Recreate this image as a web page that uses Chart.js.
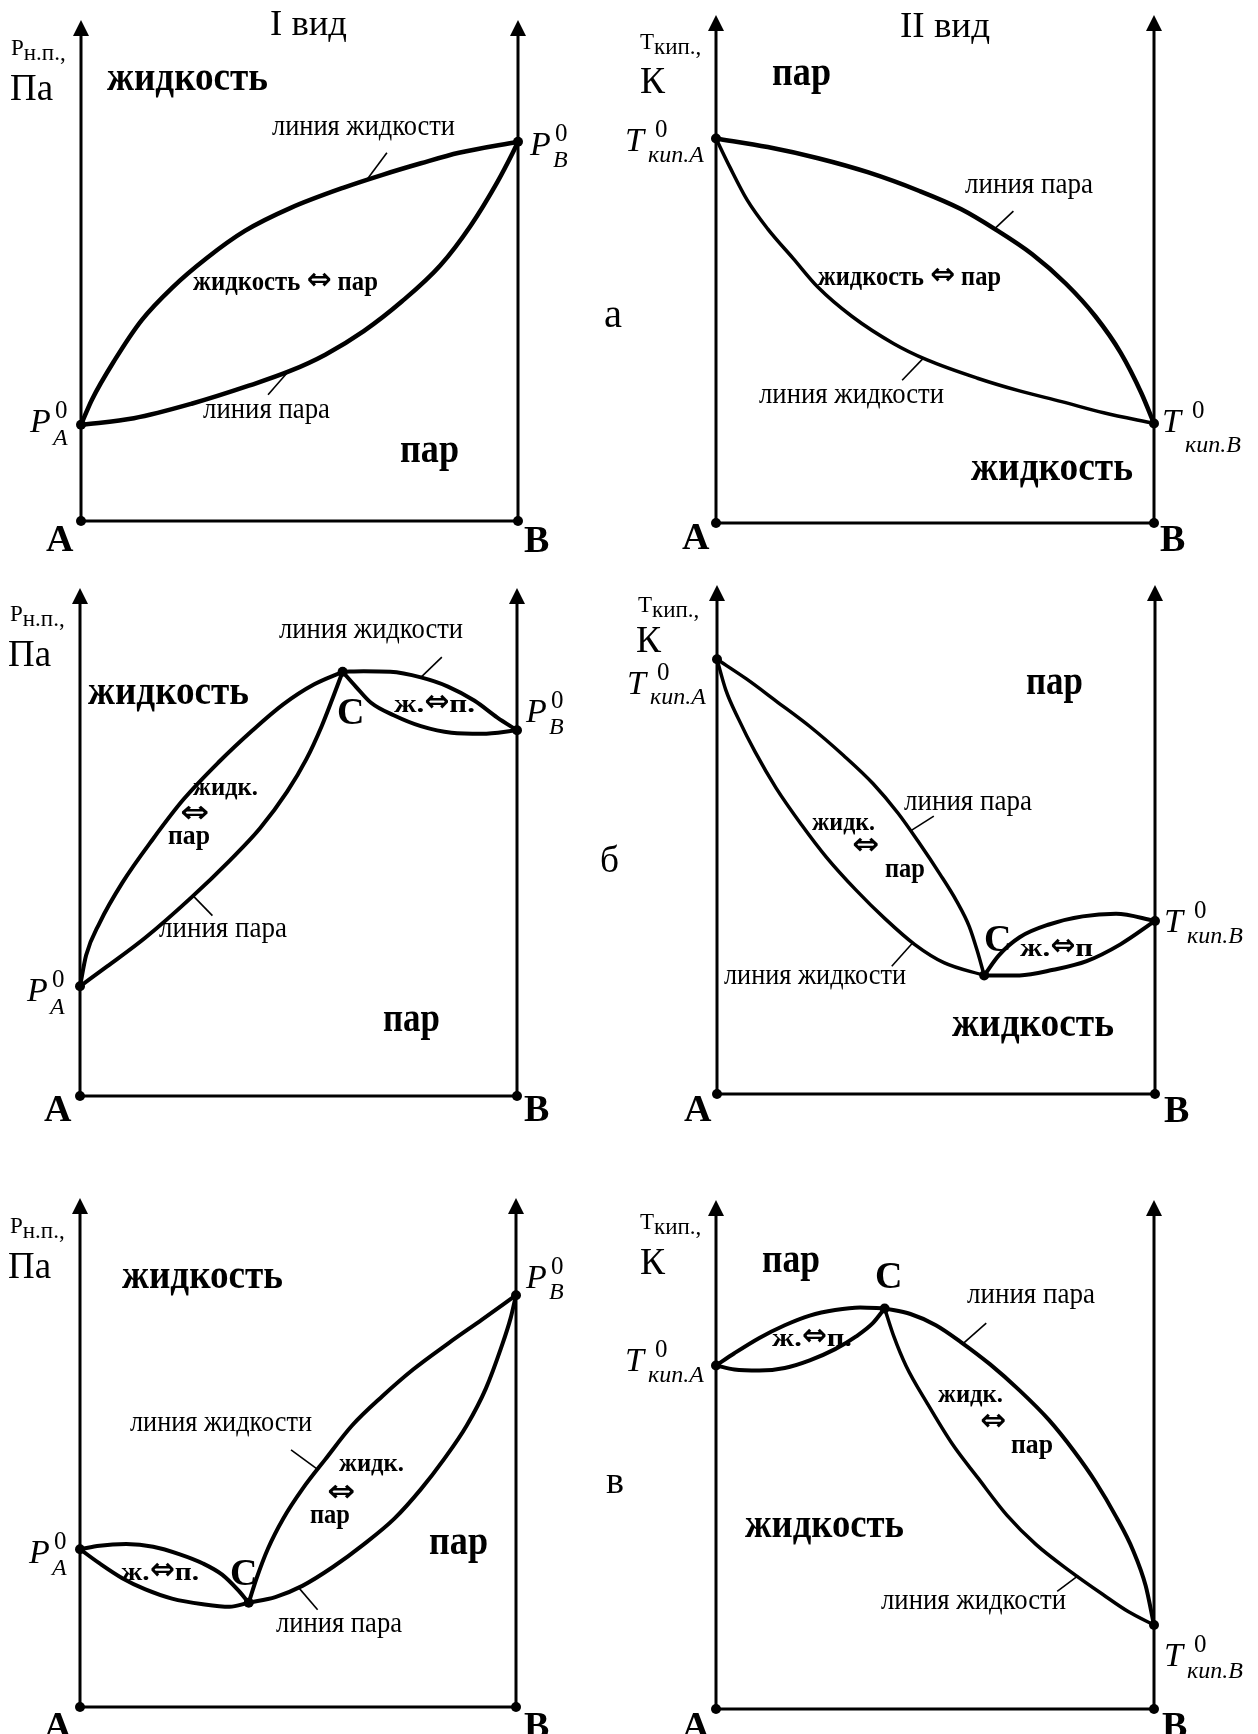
<!DOCTYPE html>
<html>
<head>
<meta charset="utf-8">
<script src="https://cdn.jsdelivr.net/npm/chart.js@4/dist/chart.umd.min.js"></script>
<style>
  html, body { margin: 0; padding: 0; background: #fff; }
  body { width: 1258px; height: 1734px; position: relative; overflow: hidden; }
  canvas { position: absolute; }
</style>
</head>
<body>
<script>
// x = доля компонента B, % ; y = давление / температура, условные единицы (100 = конец оси)

// а, I вид
const a1Liquid = [[0,19.2],[2.5,24.2],[7.7,32.1],[13.9,40.1],[20.9,46.6],[28.8,52.5],[37.5,57.9],[48.0,62.5],[60.3,66.6],[69.0,69.1],[77.8,71.4],[86.5,73.5],[100,75.7]];
const a1Vapor = [[0,19.2],[12.1,20.5],[25.3,23.4],[38.4,27.0],[48.0,30.0],[55.9,33.2],[64.7,37.9],[73.4,43.8],[82.2,51.0],[89.2,59.0],[95.3,67.7],[98.8,73.5],[100,75.7]];
const a1Points = [[0,0],[100,0],[0,19.2],[100,75.7]];
const a1Ticks = [[[65.5,68.2],[70.0,73.5]], [[47.6,30.0],[42.8,25.2]]];

// а, II вид
const a2Vapor = [[0,75.7],[11.8,74.0],[23.3,71.8],[34.8,69.0],[46.3,65.4],[55.9,61.8],[63.6,57.9],[72.2,52.9],[79.9,47.1],[86.6,40.7],[92.4,33.5],[97.1,25.6],[100,19.6]];
const a2Liquid = [[0,75.7],[3.2,70.0],[7.1,63.6],[11.8,57.9],[17.6,52.1],[23.3,46.4],[31.0,40.7],[40.6,35.3],[48.2,32.1],[59.7,28.5],[69.3,26.0],[78.9,23.9],[88.5,21.7],[100,19.6]];
const a2Points = [[0,0],[100,0],[0,75.7],[100,19.6]];
const a2Ticks = [[[63.6,57.9],[67.9,61.4]], [[47.3,32.4],[42.5,28.1]]];

// б, I вид
const b1LiquidL = [[0,21.6],[1.4,27.7],[4.5,34.1],[9.7,42.0],[16.7,50.6],[23.7,58.4],[31.6,65.6],[39.5,72.0],[46.5,77.1],[53.5,81.0],[60.1,83.5]];
const b1VaporL = [[0,21.6],[6.2,25.5],[15.0,31.2],[25.5,39.1],[34.2,46.3],[41.2,52.7],[47.4,59.9],[51.8,66.3],[55.3,72.8],[57.9,78.5],[60.1,83.5]];
const b1LiquidR = [[60.1,83.5],[64.9,83.6],[71.0,83.5],[78.0,82.4],[84.2,80.6],[90.3,77.8],[95.5,74.5],[100,72.0]];
const b1VaporR = [[60.1,83.5],[63.1,80.6],[66.6,77.4],[71.9,74.9],[78.0,72.8],[85.0,71.5],[92.0,71.3],[100,72.0]];
const b1Points = [[0,0],[100,0],[0,21.6],[100,72.0],[60.1,83.5]];
const b1Ticks = [[[78.0,82.4],[82.8,86.4]], [[25.9,39.4],[30.3,35.5]]];

// б, II вид
const b2VaporL = [[0,85.4],[6.8,81.5],[13.5,77.2],[21.2,72.2],[28.9,66.5],[35.6,61.0],[41.3,55.2],[46.1,49.4],[50.9,43.2],[54.7,37.9],[57.6,32.9],[59.5,27.9],[61.0,23.3]];
const b2LiquidL = [[0,85.4],[2.0,79.4],[4.9,73.7],[8.7,67.2],[13.5,60.1],[19.3,52.9],[25.0,46.5],[31.7,40.1],[38.4,34.4],[45.1,29.4],[51.8,25.8],[61.0,23.3]];
const b2VaporR = [[61.0,23.3],[64.3,27.2],[69.1,30.8],[75.8,33.3],[83.5,34.9],[91.1,35.4],[100,34.0]];
const b2LiquidR = [[61.0,23.3],[69.1,23.3],[76.8,24.4],[84.4,26.1],[92.1,29.4],[100,34.0]];
const b2Points = [[0,0],[100,0],[0,85.4],[100,34.0],[61.0,23.3]];
const b2Ticks = [[[44.2,51.7],[49.5,54.6]], [[44.7,29.7],[39.9,25.1]]];

// в, I вид
const c1UpperL = [[0,31.0],[4.5,31.7],[10.6,32.0],[16.8,31.5],[22.9,30.0],[28.2,28.2],[32.6,26.0],[36.1,23.1],[38.7,20.5]];
const c1LowerL = [[0,31.0],[4.5,28.2],[9.7,25.3],[15.0,23.1],[21.1,21.3],[28.2,20.2],[34.3,19.7],[38.7,20.5]];
const c1LiquidR = [[38.7,20.5],[40.5,25.3],[43.1,31.1],[46.6,37.0],[51.0,42.8],[56.3,48.7],[62.4,55.3],[69.4,61.1],[76.4,66.3],[84.4,71.4],[92.2,76.1],[100,80.9]];
const c1VaporR = [[38.7,20.5],[44.8,21.6],[51.0,23.8],[58.0,27.5],[65.0,31.9],[72.1,37.0],[78.2,42.8],[83.5,48.7],[88.7,55.3],[93.1,62.6],[96.6,70.6],[98.8,76.5],[100,80.9]];
const c1Points = [[0,0],[100,0],[0,31.0],[100,80.9],[38.7,20.5]];
const c1Ticks = [[[54.5,46.7],[48.4,50.5]], [[50.1,23.5],[54.5,19.1]]];

// в, II вид
const c2UpperL = [[0,67.5],[4.2,69.9],[9.9,72.9],[15.7,75.4],[21.4,77.3],[27.2,78.4],[32.9,78.9],[38.5,78.7]];
const c2LowerL = [[0,67.5],[4.2,66.7],[9.9,66.5],[15.7,67.0],[21.4,68.5],[27.2,70.7],[32.0,73.2],[35.8,75.8],[38.5,78.7]];
const c2VaporR = [[38.5,78.7],[44.4,77.6],[50.2,75.4],[55.9,72.1],[62.6,67.7],[69.3,62.6],[76.0,56.8],[81.8,50.6],[86.6,44.7],[91.4,37.7],[95.2,31.2],[98.1,24.2],[100,16.5]];
const c2LiquidR = [[38.5,78.7],[40.6,73.2],[43.4,67.4],[48.2,60.1],[54.0,52.0],[59.8,45.4],[66.4,38.1],[73.1,32.3],[80.8,27.1],[88.5,22.4],[94.2,19.1],[100,16.5]];
const c2Points = [[0,0],[100,0],[0,67.5],[100,16.5],[38.5,78.7]];
const c2Ticks = [[[56.4,71.8],[61.7,75.8]], [[82.7,26.2],[77.9,23.1]]];

const SERIF = '"Liberation Serif", "Times New Roman", serif';
const ARROW_FONT = 'bold 30px "DejaVu Sans"';
const f = (size, style) => (style ? style + ' ' : '') + size + 'px ' + SERIF;
const REG = f(29), BIG = f(38), REGION = f(42, 'bold'), MID = f(28, 'bold'), SMALL = f(25, 'bold'), LETTER = f(38, 'bold');

const panels = [
  { box: [0, 0, 595, 565], L: 81, R: 518, tip: 20, bottom: 521,
    curves: [[a1Liquid, 4.5], [a1Vapor, 4.5]], points: a1Points, ticks: a1Ticks,
    labels: [
      { t: 'I вид', x: 270, y: 35, f: f(36), w: 77 },
      { unit: ['Р', 'н.п.,'], x: 11, y: 55 },
      { t: 'Па', x: 10, y: 100, f: BIG, w: 43 },
      { t: 'жидкость', x: 107, y: 90, f: REGION, w: 161 },
      { t: 'линия жидкости', x: 272, y: 135, f: REG, w: 183 },
      { sym: 'P', sub: 'B', x: 530, y: 155, d: 12 },
      { t: 'жидкость ⇔ пар', x: 193, y: 290, f: MID, w: 185 },
      { sym: 'P', sub: 'A', x: 30, y: 432, d: 13 },
      { t: 'линия пара', x: 203, y: 418, f: REG, w: 127 },
      { t: 'пар', x: 400, y: 462, f: REGION, w: 59 },
      { t: 'A', x: 46, y: 551, f: LETTER },
      { t: 'B', x: 524, y: 552, f: LETTER }
    ] },
  { box: [595, 0, 663, 565], L: 716, R: 1154, tip: 15, bottom: 523,
    curves: [[a2Vapor, 4.5], [a2Liquid, 3.5]], points: a2Points, ticks: a2Ticks,
    labels: [
      { t: 'II вид', x: 900, y: 37, f: f(36), w: 90 },
      { unit: ['Т', 'кип.,'], x: 640, y: 49 },
      { t: 'К', x: 640, y: 93, f: BIG, w: 25 },
      { t: 'пар', x: 772, y: 85, f: REGION, w: 59 },
      { sym: 'T', sub: 'кип.A', x: 625, y: 151, d: 11 },
      { t: 'линия пара', x: 965, y: 193, f: REG, w: 128 },
      { t: 'жидкость ⇔ пар', x: 818, y: 285, f: MID, w: 183 },
      { t: 'а', x: 604, y: 327, f: f(40), w: 18 },
      { t: 'линия жидкости', x: 759, y: 403, f: REG, w: 185 },
      { sym: 'T', sub: 'кип.B', x: 1162, y: 432, d: 20 },
      { t: 'жидкость', x: 971, y: 480, f: REGION, w: 162 },
      { t: 'A', x: 682, y: 549, f: LETTER },
      { t: 'B', x: 1160, y: 551, f: LETTER }
    ] },
  { box: [0, 565, 595, 575], L: 80, R: 517, tip: 588, bottom: 1096,
    curves: [[b1LiquidL, 4], [b1VaporL, 4], [b1LiquidR, 4], [b1VaporR, 4]], points: b1Points, ticks: b1Ticks,
    labels: [
      { unit: ['Р', 'н.п.,'], x: 10, y: 621 },
      { t: 'Па', x: 8, y: 666, f: BIG, w: 43 },
      { t: 'линия жидкости', x: 279, y: 638, f: REG, w: 184 },
      { t: 'жидкость', x: 88, y: 704, f: REGION, w: 161 },
      { t: 'C', x: 337, y: 724, f: LETTER },
      { t: 'ж.⇔п.', x: 394, y: 712, f: SMALL, w: 81 },
      { sym: 'P', sub: 'B', x: 526, y: 722, d: 12 },
      { t: 'жидк.', x: 193, y: 795, f: SMALL, w: 65 },
      { t: '⇔', x: 180, y: 814, w: 29, mid: true },
      { t: 'пар', x: 168, y: 844, f: MID, w: 42 },
      { t: 'линия пара', x: 159, y: 937, f: REG, w: 128 },
      { sym: 'P', sub: 'A', x: 27, y: 1001, d: 13 },
      { t: 'пар', x: 383, y: 1031, f: REGION, w: 57 },
      { t: 'A', x: 44, y: 1121, f: LETTER },
      { t: 'B', x: 524, y: 1121, f: LETTER }
    ] },
  { box: [595, 565, 663, 575], L: 717, R: 1155, tip: 585, bottom: 1094,
    curves: [[b2VaporL, 3.5], [b2LiquidL, 3.5], [b2VaporR, 4], [b2LiquidR, 4]], points: b2Points, ticks: b2Ticks,
    labels: [
      { unit: ['Т', 'кип.,'], x: 638, y: 612 },
      { t: 'К', x: 636, y: 652, f: BIG, w: 25 },
      { sym: 'T', sub: 'кип.A', x: 627, y: 694, d: 10 },
      { t: 'пар', x: 1026, y: 694, f: REGION, w: 57 },
      { t: 'линия пара', x: 904, y: 810, f: REG, w: 128 },
      { t: 'жидк.', x: 812, y: 830, f: SMALL, w: 63 },
      { t: '⇔', x: 852, y: 846, w: 27, mid: true },
      { t: 'пар', x: 885, y: 877, f: MID, w: 40 },
      { t: 'б', x: 600, y: 872, f: f(38), w: 19 },
      { sym: 'T', sub: 'кип.B', x: 1164, y: 932, d: 11 },
      { t: 'C', x: 984, y: 951, f: LETTER },
      { t: 'ж.⇔п', x: 1020, y: 956, f: SMALL, w: 73 },
      { t: 'линия жидкости', x: 724, y: 984, f: REG, w: 182 },
      { t: 'жидкость', x: 952, y: 1036, f: REGION, w: 162 },
      { t: 'A', x: 684, y: 1121, f: LETTER },
      { t: 'B', x: 1164, y: 1122, f: LETTER }
    ] },
  { box: [0, 1140, 595, 594], L: 80, R: 516, tip: 1198, bottom: 1707,
    curves: [[c1UpperL, 4], [c1LowerL, 4], [c1LiquidR, 4], [c1VaporR, 4]], points: c1Points, ticks: c1Ticks,
    labels: [
      { unit: ['Р', 'н.п.,'], x: 10, y: 1233 },
      { t: 'Па', x: 8, y: 1278, f: BIG, w: 43 },
      { t: 'жидкость', x: 122, y: 1288, f: REGION, w: 161 },
      { sym: 'P', sub: 'B', x: 526, y: 1288, d: 11 },
      { t: 'линия жидкости', x: 130, y: 1431, f: REG, w: 182 },
      { t: 'жидк.', x: 339, y: 1471, f: SMALL, w: 65 },
      { t: '⇔', x: 327, y: 1493, w: 28, mid: true },
      { t: 'пар', x: 310, y: 1523, f: MID, w: 40 },
      { sym: 'P', sub: 'A', x: 29, y: 1563, d: 12 },
      { t: 'пар', x: 429, y: 1554, f: REGION, w: 59 },
      { t: 'ж.⇔п.', x: 121, y: 1580, f: SMALL, w: 78 },
      { t: 'C', x: 230, y: 1585, f: LETTER },
      { t: 'линия пара', x: 276, y: 1632, f: REG, w: 126 },
      { t: 'A', x: 44, y: 1738, f: LETTER },
      { t: 'B', x: 524, y: 1738, f: LETTER }
    ] },
  { box: [595, 1140, 663, 594], L: 716, R: 1154, tip: 1200, bottom: 1709,
    curves: [[c2UpperL, 4], [c2LowerL, 4], [c2VaporR, 4], [c2LiquidR, 3.5]], points: c2Points, ticks: c2Ticks,
    labels: [
      { unit: ['Т', 'кип.,'], x: 640, y: 1229 },
      { t: 'К', x: 640, y: 1274, f: BIG, w: 25 },
      { t: 'пар', x: 762, y: 1272, f: REGION, w: 58 },
      { t: 'C', x: 875, y: 1288, f: LETTER },
      { t: 'линия пара', x: 967, y: 1303, f: REG, w: 128 },
      { t: 'ж.⇔п.', x: 772, y: 1346, f: SMALL, w: 80 },
      { sym: 'T', sub: 'кип.A', x: 625, y: 1371, d: 11 },
      { t: 'жидк.', x: 938, y: 1402, f: SMALL, w: 65 },
      { t: '⇔', x: 980, y: 1422, w: 26, mid: true },
      { t: 'пар', x: 1011, y: 1453, f: MID, w: 42 },
      { t: 'в', x: 606, y: 1493, f: f(38), w: 18 },
      { t: 'жидкость', x: 745, y: 1537, f: REGION, w: 159 },
      { t: 'линия жидкости', x: 881, y: 1609, f: REG, w: 185 },
      { sym: 'T', sub: 'кип.B', x: 1164, y: 1666, d: 12 },
      { t: 'A', x: 682, y: 1738, f: LETTER },
      { t: 'B', x: 1162, y: 1738, f: LETTER }
    ] }
];

const toXY = arr => arr.map(p => ({ x: p[0], y: p[1] }));

// draws text stretched to width w
function fitText(ctx, text, x, y, w) {
  const nat = ctx.measureText(text).width;
  ctx.save();
  ctx.translate(x, y);
  ctx.scale(w / nat, 1);
  ctx.fillText(text, 0, 0);
  ctx.restore();
}

// label with a double arrow inside: text parts are squeezed, the arrow keeps about 25px
function arrowText(ctx, l, x, y) {
  const parts = l.t.split('⇔');
  const aw = 25;
  ctx.font = l.f;
  const w0 = ctx.measureText(parts[0]).width, w1 = ctx.measureText(parts[1]).width;
  const s = (l.w - aw) / (w0 + w1);
  ctx.save();
  ctx.translate(x, y);
  ctx.scale(s, 1);
  ctx.fillText(parts[0], 0, 0);
  ctx.restore();
  ctx.font = ARROW_FONT;
  fitText(ctx, '⇔', x + w0 * s, y - 1, aw);
  ctx.font = l.f;
  ctx.save();
  ctx.translate(x + w0 * s + aw, y);
  ctx.scale(s, 1);
  ctx.fillText(parts[1], 0, 0);
  ctx.restore();
}

// оси со стрелками и подписи
const framePlugin = {
  id: 'frame',
  beforeDatasetsDraw(chart) {
    const ctx = chart.ctx, xs = chart.scales.x, ys = chart.scales.y;
    const x0 = xs.getPixelForValue(0), x1 = xs.getPixelForValue(100);
    const yb = ys.getPixelForValue(0), yt = ys.getPixelForValue(100);
    ctx.save();
    ctx.strokeStyle = '#000';
    ctx.fillStyle = '#000';
    ctx.lineWidth = 3;
    ctx.beginPath();
    ctx.moveTo(x0, yt + 10); ctx.lineTo(x0, yb); ctx.lineTo(x1, yb);
    ctx.moveTo(x1, yb); ctx.lineTo(x1, yt + 10);
    ctx.stroke();
    [x0, x1].forEach(x => {
      ctx.beginPath();
      ctx.moveTo(x, yt);
      ctx.lineTo(x - 8, yt + 16);
      ctx.lineTo(x + 8, yt + 16);
      ctx.closePath();
      ctx.fill();
    });
    ctx.restore();
  },
  afterDraw(chart) {
    const p = chart.options.plugins.frame;
    const ctx = chart.ctx, ox = p.ox, oy = p.oy;
    ctx.save();
    ctx.fillStyle = '#000';
    ctx.textBaseline = 'alphabetic';
    p.labels.forEach(l => {
      const x = l.x - ox, y = l.y - oy;
      if (l.sym) {
        ctx.font = f(34, 'italic');
        ctx.fillText(l.sym, x, y);
        ctx.font = f(25);
        ctx.fillText('0', x + (l.sym === 'P' ? 25 : 30), y - 14);
        ctx.font = f(24, 'italic');
        ctx.fillText(l.sub, x + 23, y + l.d);
      } else if (l.unit) {
        ctx.font = f(23);
        ctx.fillText(l.unit[0], x, y);
        const w = ctx.measureText(l.unit[0]).width;
        ctx.fillText(l.unit[1], x + w, y + 5);
      } else if (l.mid) {
        ctx.font = ARROW_FONT;
        ctx.textBaseline = 'middle';
        fitText(ctx, l.t, x, y, l.w);
        ctx.textBaseline = 'alphabetic';
      } else if (l.t.includes('⇔')) {
        arrowText(ctx, l, x, y);
      } else {
        ctx.font = l.f;
        if (l.w) fitText(ctx, l.t, x, y, l.w);
        else ctx.fillText(l.t, x, y);
      }
    });
    ctx.restore();
  }
};

panels.forEach(pn => {
  const [left, top, w, h] = pn.box;
  const cv = document.createElement('canvas');
  cv.width = w; cv.height = h;
  cv.style.left = left + 'px'; cv.style.top = top + 'px';
  cv.style.width = w + 'px'; cv.style.height = h + 'px';
  document.body.appendChild(cv);

  const datasets = [];
  pn.curves.forEach(([data, bw]) => {
    datasets.push({ data: toXY(data), showLine: true, borderColor: '#000', borderWidth: bw,
      pointRadius: 0, cubicInterpolationMode: 'monotone', fill: false, clip: false });
  });
  pn.ticks.forEach(tk => {
    datasets.push({ data: toXY(tk), showLine: true, borderColor: '#000', borderWidth: 1.6,
      pointRadius: 0, fill: false, clip: false });
  });
  datasets.push({ data: toXY(pn.points), showLine: false, pointRadius: 5, pointBorderWidth: 0,
    pointBackgroundColor: '#000', pointBorderColor: '#000', clip: false });

  new Chart(cv.getContext('2d'), {
    type: 'scatter',
    data: { datasets },
    options: {
      responsive: false,
      animation: false,
      events: [],
      layout: { padding: { left: pn.L - left, right: left + w - pn.R, top: pn.tip - top, bottom: top + h - pn.bottom } },
      scales: {
        x: { type: 'linear', min: 0, max: 100, display: false },
        y: { type: 'linear', min: 0, max: 100, display: false }
      },
      plugins: {
        legend: { display: false },
        tooltip: { enabled: false },
        frame: { labels: pn.labels, ox: left, oy: top }
      }
    },
    plugins: [framePlugin]
  });
});
</script>
</body>
</html>
